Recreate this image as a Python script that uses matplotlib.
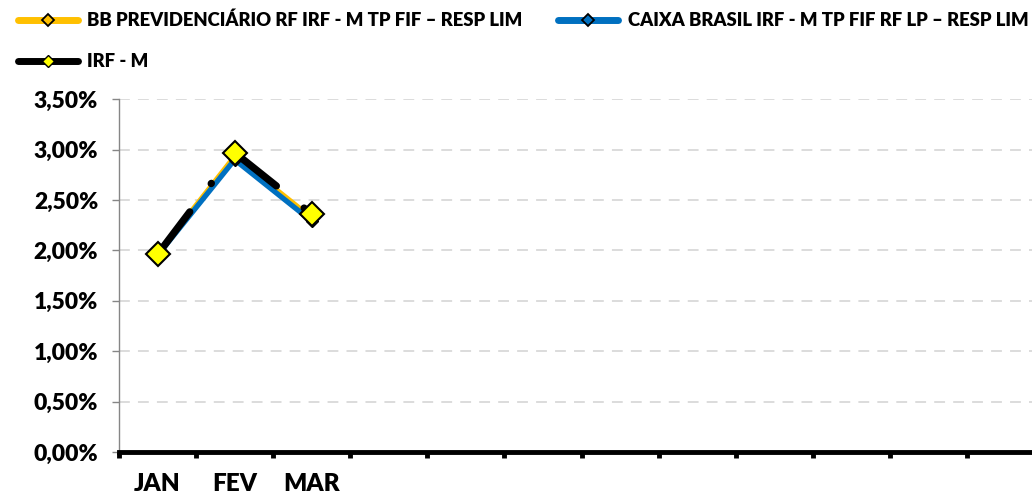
import matplotlib
matplotlib.use("Agg")
import matplotlib.pyplot as plt
from matplotlib.lines import Line2D
from matplotlib.ticker import FuncFormatter, MultipleLocator

months = ["JAN", "FEV", "MAR", "ABR", "MAI", "JUN", "JUL", "AGO", "SET", "OUT", "NOV", "DEZ"]
tick_labels = ["JAN", "FEV", "MAR", "", "", "", "", "", "", "", "", ""]
bb_values = [1.96, 2.93, 2.32]
caixa_values = [1.95, 2.90, 2.29]
irfm_values = [1.96, 2.97, 2.36]
series_names = ["BB PREVIDENCIÁRIO RF IRF - M TP FIF – RESP LIM",
                "CAIXA BRASIL IRF - M TP FIF RF LP – RESP LIM",
                "IRF - M"]

FONT = ["Lato", "DejaVu Sans"]
WEIGHT = "heavy"
plt.rcParams["font.family"] = FONT
plt.rcParams["font.weight"] = WEIGHT

ORANGE = "#FFC000"
BLUE = "#0070C0"
BLACK = "#000000"
YELLOW = "#FFFF00"

fig = plt.figure(figsize=(10.32, 4.95), dpi=100)
ax = fig.add_axes([119 / 1032, 1 - 452 / 495, 925 / 1032, (452 - 99.2) / 495])

x = list(range(len(months)))

ax.plot(x[:len(bb_values)], bb_values, color=ORANGE, lw=4.0, solid_joinstyle="miter",
        marker="D", ms=5, mfc=ORANGE, mec=BLACK, mew=1, zorder=3)
ax.plot(x[:len(caixa_values)], caixa_values, color=BLUE, lw=3.8, solid_joinstyle="miter",
        marker="D", ms=6, mfc=BLUE, mec=BLACK, mew=1, zorder=4)
# IRF-M: Excel restarts the dash pattern for each segment
n = len(irfm_values)
for i in range(n - 1):
    ax.plot(x[i:i + 2], irfm_values[i:i + 2], color=BLACK, lw=5.2,
            dashes=(7.4, 4.9, 0.05, 4.9), dash_capstyle="round", zorder=5)
ax.plot(x[:n], irfm_values, ls="none", marker="D", ms=12.5, mfc=YELLOW,
        mec=BLACK, mew=1.5, zorder=6)

ax.set_xlim(-0.5, len(months) - 0.5)
ax.set_ylim(0, 3.5)
ax.yaxis.set_major_locator(MultipleLocator(0.5))
ax.yaxis.set_major_formatter(FuncFormatter(lambda v, p: f"{v:.2f}%".replace(".", ",")))
ax.grid(axis="y", color="#D9D9D9", lw=1.3, ls=(0, (6, 4.5)))
ax.set_axisbelow(True)

ax.set_xticks(x)
ax.set_xticklabels(tick_labels, fontsize=17.5, fontweight=WEIGHT)
ax.tick_params(axis="x", which="major", length=0, pad=15)
ax.set_xticks([i - 0.5 for i in range(len(months) + 1)], minor=True)
ax.tick_params(axis="x", which="minor", length=4, width=3.5, color=BLACK, direction="out")
ax.tick_params(axis="y", length=5, width=1, color="#868686", pad=10, labelsize=16.5)
for lbl in ax.get_yticklabels():
    lbl.set_fontweight(WEIGHT)

for s in ["top", "right"]:
    ax.spines[s].set_visible(False)
ax.spines["left"].set_color("#868686")
ax.spines["left"].set_linewidth(1)
ax.spines["bottom"].set_color(BLACK)
ax.spines["bottom"].set_linewidth(3.5)
ax.spines["bottom"].set_zorder(7)

h_bb = Line2D([], [], color=ORANGE, lw=5, solid_capstyle="round", marker="D", ms=6,
              mfc=ORANGE, mec=BLACK, mew=1.3)
h_caixa = Line2D([], [], color=BLUE, lw=5, solid_capstyle="round", marker="D", ms=6,
                 mfc=BLUE, mec=BLACK, mew=1.3)
h_irfm = Line2D([], [], color=BLACK, lw=5, solid_capstyle="round", marker="D", ms=6,
                mfc=YELLOW, mec=BLACK, mew=1)
# legend fills column-wise: order so that rows read BB, CAIXA / IRF-M
fig.legend([h_bb, h_irfm, h_caixa], [series_names[0], series_names[2], series_names[1]],
           loc="upper left", bbox_to_anchor=(14 / 1032, 1 - 8 / 495), borderaxespad=0.0,
           borderpad=0.2, ncol=2, frameon=False,
           prop={"family": FONT, "weight": WEIGHT, "size": 13.3},
           handlelength=3.25, handletextpad=0.5, columnspacing=1.95, labelspacing=1.3)

fig.savefig("out.png", dpi=100)
